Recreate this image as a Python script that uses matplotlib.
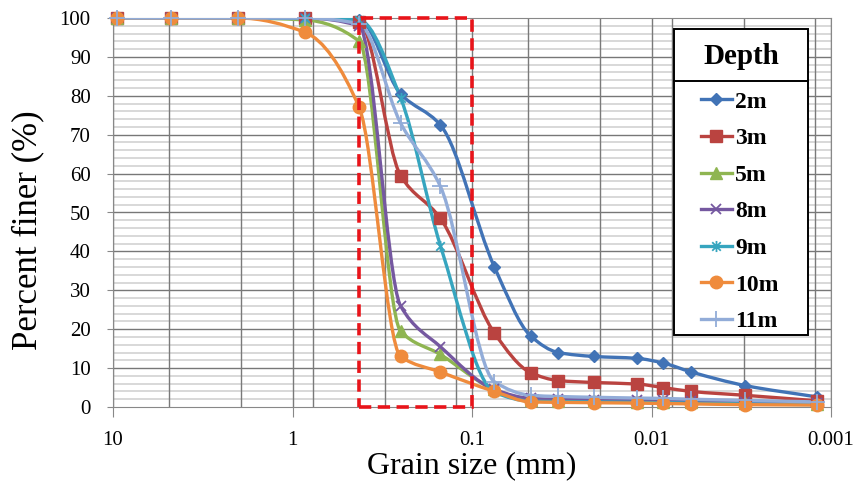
import numpy as np
import matplotlib
matplotlib.use('Agg')
import matplotlib.pyplot as plt
from matplotlib.path import Path
from matplotlib.patches import PathPatch, Rectangle
from matplotlib.lines import Line2D
from matplotlib.ticker import FixedLocator, NullLocator, FixedFormatter

plt.rcParams['font.family'] = ['Liberation Serif', 'DejaVu Serif']

# grain sizes (mm): sieves then hydrometer readings
sizes = [9.5, 4.75, 2.0, 0.85, 0.425, 0.25, 0.15, 0.075,
         0.047, 0.033, 0.021, 0.012, 0.0086, 0.006, 0.003, 0.0012]

depths = ['2m', '3m', '5m', '8m', '9m', '10m', '11m']
finer_2m = [100, 100, 100, 100, 99.5, 80.5, 72.5, 36, 18.2, 14, 13, 12.5, 11.3, 9, 5.5, 2.6]
finer_3m = [100, 100, 100, 100, 99, 59.5, 48.5, 19, 8.8, 6.8, 6.3, 5.9, 5.0, 4.0, 3.0, 1.6]
finer_5m = [100, 100, 100, 99.5, 94, 19.5, 13.5, 4.5, 1.8, 1.6, 1.5, 1.4, 1.3, 1.2, 1.0, 0.8]
finer_8m = [100, 100, 100, 100, 98, 26, 15.5, 4.5, 2.2, 2.0, 1.9, 1.8, 1.7, 1.5, 1.3, 1.0]
finer_9m = [100, 100, 100, 100, 99.5, 79.5, 41.5, 3.8, 1.5, 1.4, 1.3, 1.2, 1.1, 1.0, 0.8, 0.6]
finer_10m = [100, 100, 100, 96.3, 77, 13, 9, 4, 1.3, 1.2, 1.1, 1.0, 0.9, 0.8, 0.6, 0.5]
finer_11m = [100, 100, 100, 100, 98.5, 73, 56.7, 6.5, 3.0, 2.7, 2.5, 2.3, 2.2, 2.0, 1.7, 1.3]
series = [finer_2m, finer_3m, finer_5m, finer_8m, finer_9m, finer_10m, finer_11m]

x_ticks = [10, 1, 0.1, 0.01, 0.001]
x_ticklabels = ['10', '1', '0.1', '0.01', '0.001']
box_range = (0.425, 0.1)  # highlighted size range

colors = ['#4173B6', '#BA4340', '#8FB551', '#7558A0', '#36A5BF', '#EF8B3C', '#92ACD8']

# asterisk marker (x with a vertical bar)
ast = Path([(-1, -1), (1, 1), (-1, 1), (1, -1), (0, -1.3), (0, 1.3)],
           [Path.MOVETO, Path.LINETO, Path.MOVETO, Path.LINETO, Path.MOVETO, Path.LINETO])
markers = [('D', 6.5, True), ('s', 8.5, True), ('^', 8.5, True), ('x', 7.5, False),
           (ast, 8, False), ('o', 9, True), ('+', 11, False)]


def smooth_path(xs, ys):
    # smoothed line (monotone cubic in log-x space) drawn as bezier curves
    u = np.log10(xs)
    v = np.asarray(ys, float)
    n = len(u)
    h = np.diff(u)
    d = np.diff(v) / h
    m = np.zeros(n)
    m[0], m[-1] = d[0], d[-1]
    for i in range(1, n - 1):
        if d[i - 1] * d[i] > 0:
            w1 = 2 * h[i] + h[i - 1]
            w2 = h[i] + 2 * h[i - 1]
            m[i] = (w1 + w2) / (w1 / d[i - 1] + w2 / d[i])
    verts = [(xs[0], ys[0])]
    codes = [Path.MOVETO]
    for i in range(n - 1):
        c1 = (u[i] + h[i] / 3, v[i] + m[i] * h[i] / 3)
        c2 = (u[i + 1] - h[i] / 3, v[i + 1] - m[i + 1] * h[i] / 3)
        verts += [(10 ** c1[0], c1[1]), (10 ** c2[0], c2[1]), (xs[i + 1], ys[i + 1])]
        codes += [Path.CURVE4] * 3
    return Path(verts, codes)


fig = plt.figure(figsize=(8.58, 4.86), dpi=100)
W, H = 858, 486
ax = fig.add_axes([113 / W, 1 - 407 / H, (831 - 113) / W, (407 - 18) / H])
ax.set_xscale('log')
ax.set_xlim(10, 0.001)
ax.set_ylim(0, 100)

# grid
for yv in np.arange(2, 100, 2):
    if yv % 10:
        ax.axhline(yv, color='#d2d2d2', lw=1.2, zorder=0)
    else:
        ax.axhline(yv, color='#777777', lw=1.0, zorder=0)
for xv in x_ticks + [10 ** (0.687 - 0.4 * k) for k in range(10)]:
    ax.axvline(xv, color='#7a7a7a', lw=1.0, zorder=0)

for s in ax.spines.values():
    s.set_color('#888888')

ax.xaxis.set_major_locator(FixedLocator(x_ticks))
ax.xaxis.set_major_formatter(FixedFormatter(x_ticklabels))
ax.xaxis.set_minor_locator(NullLocator())
ax.set_yticks(np.arange(0, 101, 10))
ax.tick_params(axis='x', length=7, color='#888888', pad=10, labelsize=15)
ax.tick_params(axis='y', length=4, color='#888888', pad=12, labelsize=15)

ax.set_xlabel('Grain size (mm)', fontsize=23, labelpad=1)
ax.set_ylabel('Percent finer (%)', fontsize=25)
ax.yaxis.set_label_coords(-0.095, 0.455)

handles = []
for name, ys, c, (m, ms, filled) in zip(depths, series, colors, markers):
    ax.add_patch(PathPatch(smooth_path(sizes, ys), fill=False, edgecolor=c, lw=2.4,
                           transform=ax.transData, zorder=3))
    kw = dict(marker=m, markersize=ms, color=c, linestyle='none', zorder=4)
    if not filled:
        kw.update(markeredgewidth=1.3)
    else:
        kw.update(markeredgecolor=c)
    ax.plot(sizes, ys, clip_on=False, **kw)
    handles.append(Line2D([], [], lw=2.4, **{k: v for k, v in kw.items() if k != 'linestyle'}))

ax.add_patch(Rectangle((box_range[0], 0), box_range[1] - box_range[0], 100, fill=False,
                       edgecolor='#E8141A', lw=2.6, linestyle=(0, (3.4, 1.8)),
                       clip_on=False, zorder=5))

# legend box with title cell
fig.add_artist(Rectangle((674 / W, 1 - 335 / H), (808 - 674) / W, (335 - 29) / H,
                         transform=fig.transFigure, facecolor='white', edgecolor='black',
                         lw=1.4, zorder=6))
fig.add_artist(Line2D([674 / W, 808 / W], [1 - 81 / H, 1 - 81 / H],
                      transform=fig.transFigure, color='black', lw=1.4, zorder=7))
fig.text(741 / W, 1 - 56 / H, 'Depth', ha='center', va='center', fontsize=21,
         fontweight='bold', zorder=8)
leg = fig.legend(handles, depths, loc='upper left', bbox_to_anchor=(701 / W, 1 - 91 / H),
                 frameon=False, borderpad=0, borderaxespad=0, handlelength=1.3,
                 handletextpad=0.15, labelspacing=0.64,
                 prop={'size': 17, 'weight': 'bold'})
leg.set_zorder(9)

fig.savefig('out.png', dpi=100)
